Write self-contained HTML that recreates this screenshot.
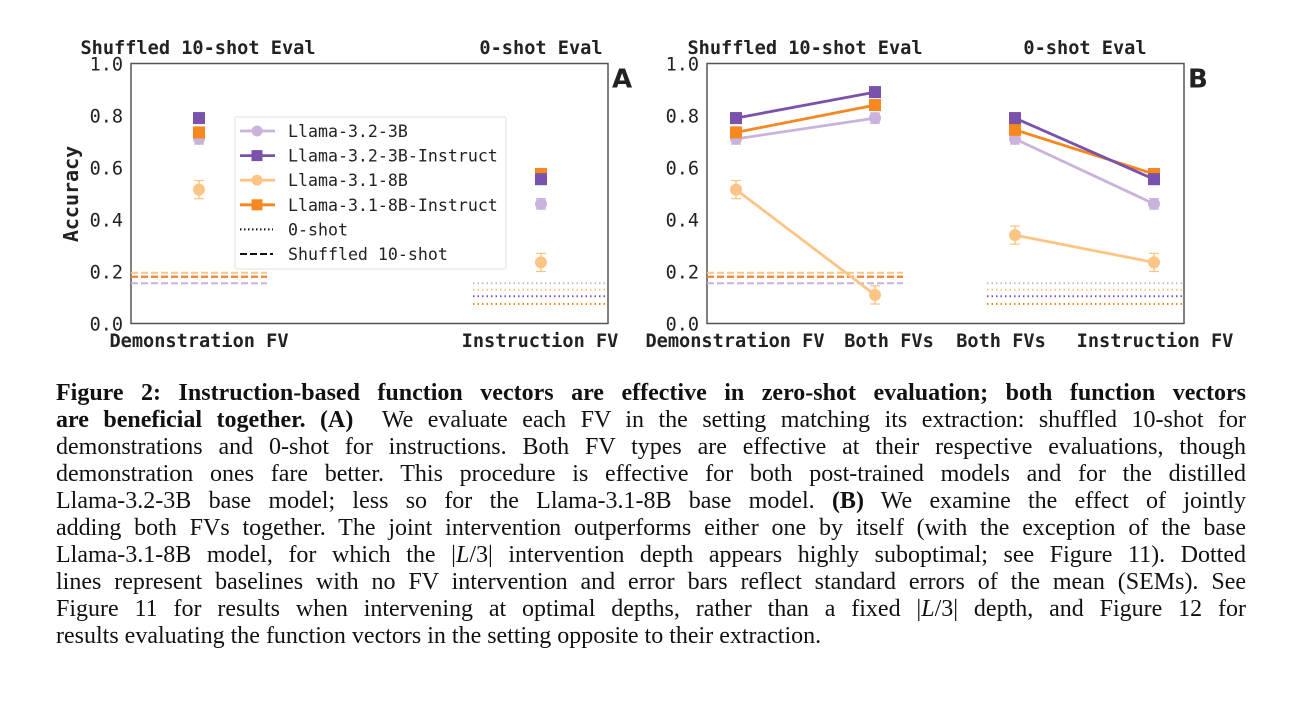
<!DOCTYPE html>
<html><head><meta charset="utf-8"><style>
body{margin:0;width:1300px;height:708px;background:#fff;overflow:hidden;position:relative}
svg{position:absolute;left:0;top:0}
.cap{position:absolute;left:56px;width:1190px;font-family:"Liberation Serif",serif;font-size:24px;line-height:27px;color:#111}
.cap div{text-align:justify;text-align-last:justify;white-space:nowrap;height:27px}
.cap div.last{text-align-last:left}
</style></head><body>
<svg id="chart" width="1300" height="370"></svg>
<div class="cap" style="top:380px">
<div><b>Figure 2: Instruction-based function vectors are effective in zero-shot evaluation; both function vectors</b></div>
<div><b>are beneficial together. (A)</b>&nbsp; We evaluate each FV in the setting matching its extraction: shuffled 10-shot for</div>
<div>demonstrations and 0-shot for instructions. Both FV types are effective at their respective evaluations, though</div>
<div>demonstration ones fare better. This procedure is effective for both post-trained models and for the distilled</div>
<div>Llama-3.2-3B base model; less so for the Llama-3.1-8B base model. <b>(B)</b> We examine the effect of jointly</div>
<div>adding both FVs together. The joint intervention outperforms either one by itself (with the exception of the base</div>
<div>Llama-3.1-8B model, for which the |<i>L</i>/3| intervention depth appears highly suboptimal; see Figure 11). Dotted</div>
<div>lines represent baselines with no FV intervention and error bars reflect standard errors of the mean (SEMs). See</div>
<div>Figure 11 for results when intervening at optimal depths, rather than a fixed |<i>L</i>/3| depth, and Figure 12 for</div>
<div class="last">results evaluating the function vectors in the setting opposite to their extraction.</div>
</div>
<script>
const models=["Llama-3.2-3B","Llama-3.2-3B-Instruct","Llama-3.1-8B","Llama-3.1-8B-Instruct"];
const colors=["#c9b3dc","#7b52ab","#fcc585","#f7871f"];
const markers=["circle","square","circle","square"];
const yTicks=[0.0,0.2,0.4,0.6,0.8,1.0];
// panel A
const demoFV=[0.71,0.79,0.515,0.735];
const instrFV=[0.46,0.555,0.235,0.575];
// panel B
const bothFVshuffled=[0.79,0.89,0.11,0.84];
const bothFVzero=[0.71,0.79,0.34,0.745];
const errs=[0.02,0.02,0.035,0.02];
const shuffledBaseline=[0.155,0.18,0.195,0.18];
const zeroBaseline=[0.155,0.105,0.13,0.075];

const NS="http://www.w3.org/2000/svg";
const svg=document.getElementById('chart');
function el(t,a,p){const e=document.createElementNS(NS,t);for(const k in a)e.setAttribute(k,a[k]);(p||svg).appendChild(e);return e;}
const yTop=63.5,yBot=323.5;
function yS(v){return yBot-(yBot-yTop)*v;}
const mono='"DejaVu Sans Mono","Liberation Mono",monospace';

function panel(L,R,letter,name){
  const g=el('g',{});
  
  
  el('rect',{x:L,y:yTop,width:R-L,height:yBot-yTop,fill:'none',stroke:'#555','stroke-width':1.5},g);
  yTicks.forEach(t=>{
    const tx=el('text',{x:L-8,y:yS(t)+7,'text-anchor':'end','font-family':mono,'font-size':18.5,fill:'#222'},g);
    tx.textContent=t.toFixed(1);
    
    
  });
  const lt=el('text',{x:R+4,y:yTop+24,'font-family':'"DejaVu Sans",sans-serif','font-weight':'bold','font-size':26,fill:'#222'},g);
  lt.textContent=letter;
  
  
  return g;
}
function label(x,y,t,anchor,nm,size){
  const e=el('text',{x:x,y:y,'text-anchor':anchor||'middle','font-family':mono,'font-weight':'bold','font-size':size||18.6,fill:'#222'});
  e.textContent=t;
  
  
}
function mark(x,v,i,g){
  el('line',{x1:x,x2:x,y1:yS(v+errs[i]),y2:yS(v-errs[i]),stroke:colors[i],'stroke-width':1.5},g);
  el('line',{x1:x-5,x2:x+5,y1:yS(v+errs[i]),y2:yS(v+errs[i]),stroke:colors[i],'stroke-width':1.2},g);
  el('line',{x1:x-5,x2:x+5,y1:yS(v-errs[i]),y2:yS(v-errs[i]),stroke:colors[i],'stroke-width':1.2},g);
  let m;
  if(markers[i]==='circle') m=el('circle',{cx:x,cy:yS(v),r:6,fill:colors[i]},g);
  else m=el('rect',{x:x-6,y:yS(v)-6,width:12,height:12,fill:colors[i]},g);
  
  
}
function baselines(x1,x2,vals,dash,g){
  vals.forEach((v,i)=>{
    const l=el('line',{x1:x1,x2:x2,y1:yS(v),y2:yS(v),stroke:colors[i],'stroke-width':2,'stroke-dasharray':dash},g);
    
    
  });
}

// Panel A
const gA=panel(131,608,'A','panel-a');
baselines(131,267,shuffledBaseline,'7,3',gA);
baselines(473,608,zeroBaseline,'1.5,3',gA);
[0,2,3,1].forEach(i=>{mark(199,demoFV[i],i,gA);mark(541,instrFV[i],i,gA);});
label(198,54,'Shuffled 10-shot Eval','middle','title-a-shuffled');
label(541,54,'0-shot Eval','middle','title-a-zero');
label(199,347,'Demonstration FV','middle','x-label-demo');
label(540,347,'Instruction FV','middle','x-label-instr');
const yl=el('text',{x:0,y:0,transform:'translate(78,194) rotate(-90)','text-anchor':'middle','font-family':mono,'font-weight':'bold','font-size':20,fill:'#222'});
yl.textContent='Accuracy';


// legend
const lg=el('g',{});


el('rect',{x:235,y:117,width:271,height:152,fill:'#fff','fill-opacity':0.85,stroke:'#e0e0e0','stroke-width':1,rx:2},lg);
const lnames=models.concat(['0-shot','Shuffled 10-shot']);
lnames.forEach((n,k)=>{
  const y=131+k*24.6;
  const e=el('g',{},lg);
  
  
  if(k<4){
    el('line',{x1:240,x2:275,y1:y,y2:y,stroke:colors[k],'stroke-width':2.8},e);
    if(markers[k]==='circle') el('circle',{cx:257,cy:y,r:5.5,fill:colors[k]},e);
    else el('rect',{x:251.5,y:y-5.5,width:11,height:11,fill:colors[k]},e);
  } else {
    el('line',{x1:240,x2:273,y1:y,y2:y,stroke:'#111','stroke-width':2,'stroke-dasharray':k===4?'1.5,2.5':'7,3'},e);
  }
  const t=el('text',{x:288,y:y+6,'font-family':mono,'font-size':16.6,fill:'#222'},e);
  t.textContent=n;
});

// Panel B
const gB=panel(707,1184,'B','panel-b');
baselines(707,903,shuffledBaseline,'7,3',gB);
baselines(987,1184,zeroBaseline,'1.5,3',gB);
[0,2,3,1].forEach(i=>{
  const l1=el('line',{x1:736,y1:yS(demoFV[i]),x2:875,y2:yS(bothFVshuffled[i]),stroke:colors[i],'stroke-width':2.8},gB);
  
  
  const l2=el('line',{x1:1015,y1:yS(bothFVzero[i]),x2:1154,y2:yS(instrFV[i]),stroke:colors[i],'stroke-width':2.8},gB);
  
  
  mark(736,demoFV[i],i,gB);mark(875,bothFVshuffled[i],i,gB);
  mark(1015,bothFVzero[i],i,gB);mark(1154,instrFV[i],i,gB);
});
label(805,54,'Shuffled 10-shot Eval','middle','title-b-shuffled');
label(1085,54,'0-shot Eval','middle','title-b-zero');
label(735,347,'Demonstration FV','middle','x-label-b-demo');
label(889,347,'Both FVs','middle','x-label-b-both1');
label(1001,347,'Both FVs','middle','x-label-b-both2');
label(1155,347,'Instruction FV','middle','x-label-b-instr');
</script>
</body></html>
